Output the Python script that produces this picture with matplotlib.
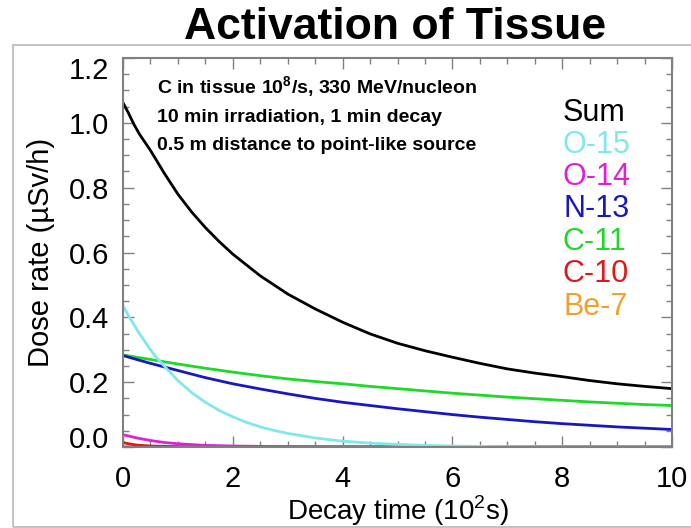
import matplotlib
matplotlib.use('Agg')
import matplotlib.pyplot as plt
import matplotlib.transforms as mtransforms
from matplotlib.patches import Rectangle

plt.rcParams['font.family'] = ['Liberation Sans', 'DejaVu Sans']
plt.rcParams['mathtext.fontset'] = 'custom'
plt.rcParams['mathtext.rm'] = 'Liberation Sans'
plt.rcParams['mathtext.bf'] = 'Liberation Sans:bold'

# decay time in units of 10^2 s, dose rate in uSv/h
t_sum = [0, 0.1, 0.2, 0.3, 0.4, 0.5, 0.75, 1, 1.25, 1.5, 1.75, 2, 2.5, 3, 3.5, 4,
         4.5, 5, 5.5, 6, 6.5, 7, 7.5, 8, 8.5, 9, 9.5, 10]
sum_rate = [1.062, 1.03, 0.995, 0.965, 0.94, 0.915, 0.845, 0.78, 0.725, 0.677,
            0.634, 0.595, 0.528, 0.472, 0.426, 0.385, 0.349, 0.32, 0.297, 0.277,
            0.258, 0.241, 0.228, 0.217, 0.205, 0.195, 0.187, 0.18]

t_o15 = [0, 0.1, 0.2, 0.3, 0.4, 0.5, 0.6, 0.75, 1, 1.25, 1.5, 1.75, 2, 2.25, 2.5,
         2.75, 3, 3.5, 4, 4.5, 5, 5.5, 6, 7, 8, 10]
o15_rate = [0.436, 0.405, 0.377, 0.35, 0.325, 0.30, 0.278, 0.25, 0.205, 0.168,
            0.138, 0.113, 0.093, 0.076, 0.062, 0.051, 0.042, 0.028, 0.018, 0.012,
            0.008, 0.005, 0.003, 0.001, 0.0, 0.0]

t_o14 = [0, 0.1, 0.25, 0.5, 0.75, 1, 1.5, 2, 3, 4, 10]
o14_rate = [0.038, 0.034, 0.028, 0.02, 0.014, 0.01, 0.005, 0.003, 0.001, 0.0, 0.0]

t_n13 = [0, 0.5, 1, 1.5, 2, 2.5, 3, 3.5, 4, 4.5, 5, 5.5, 6, 6.5, 7, 7.5, 8, 8.5,
         9, 9.5, 10]
n13_rate = [0.282, 0.258, 0.236, 0.214, 0.195, 0.179, 0.164, 0.15, 0.138, 0.128,
            0.118, 0.109, 0.10, 0.092, 0.085, 0.078, 0.072, 0.067, 0.062, 0.058,
            0.054]

t_c11 = [0, 0.5, 1, 1.5, 2, 2.5, 3, 3.5, 4, 4.5, 5, 5.5, 6, 6.5, 7, 7.5, 8, 8.5,
         9, 9.5, 10]
c11_rate = [0.284, 0.27, 0.256, 0.243, 0.231, 0.22, 0.21, 0.202, 0.195, 0.187,
            0.18, 0.173, 0.166, 0.16, 0.154, 0.149, 0.144, 0.139, 0.135, 0.131,
            0.128]

t_c10 = [0, 0.1, 0.25, 0.5, 1, 1.5, 10]
c10_rate = [0.014, 0.010, 0.006, 0.003, 0.001, 0.0, 0.0]

t_be7 = [0, 10]
be7_rate = [0.003, 0.003]

names = ['Sum', 'O-15', 'O-14', 'N-13', 'C-11', 'C-10', 'Be-7']
colors = ['black', '#80e8ea', '#e020d8', '#1818c0', '#20d828', '#e01818', '#f0a030']

fig = plt.figure(figsize=(6.91, 5.28), dpi=100)

# thin grey box around the plot
fig.patches.append(Rectangle((13 / 691, 1 / 528), 700 / 691, (528 - 46) / 528,
                             transform=fig.transFigure, fill=False,
                             edgecolor='#b8b8b8', linewidth=1.2, zorder=0))

ax = fig.add_axes([123 / 691, 81 / 528, 549 / 691, 389 / 528])

# bottom curves first, sum on top
ax.plot(t_be7, be7_rate, color=colors[6], lw=2)
ax.plot(t_c10, c10_rate, color=colors[5], lw=2)
ax.plot(t_c11, c11_rate, color=colors[4], lw=2)
ax.plot(t_n13, n13_rate, color=colors[3], lw=2)
ax.plot(t_o14, o14_rate, color=colors[2], lw=2)
ax.plot(t_o15, o15_rate, color=colors[1], lw=2)
ax.plot(t_sum, sum_rate, color=colors[0], lw=2)

ax.set_xlim(0, 10)
ax.set_ylim(0, 1.2)
ax.set_xticks([0, 2, 4, 6, 8, 10])
ax.set_xticks([i * 0.5 for i in range(21)], minor=True)
ax.set_yticks([0, 0.2, 0.4, 0.6, 0.8, 1.0, 1.2])
ax.set_yticklabels(['0.0', '0.2', '0.4', '0.6', '0.8', '1.0', '1.2'])
ax.set_yticks([i * 0.05 for i in range(25)], minor=True)
ax.tick_params(which='both', direction='in', top=True, right=True,
               color='#808080', labelsize=21)
ax.tick_params(which='major', length=8, width=1)
ax.tick_params(which='minor', length=4, width=1)
ax.tick_params(axis='x', pad=13)
ax.tick_params(axis='y', pad=10)
for sp in ax.spines.values():
    sp.set_color('#808080')
    sp.set_linewidth(1.5)

# pull the end labels of the y axis inward
ylabels = ax.get_yticklabels()
ylabels[0].set_transform(ylabels[0].get_transform() +
                         mtransforms.ScaledTranslation(0, 10 / 100, fig.dpi_scale_trans))
ylabels[-1].set_transform(ylabels[-1].get_transform() +
                          mtransforms.ScaledTranslation(0, -10 / 100, fig.dpi_scale_trans))

ax.set_xlabel('Decay time (10$^{2}$s)', fontsize=20, labelpad=0)
ax.set_ylabel('Dose rate (\u00b5Sv/h)', fontsize=21, labelpad=10)

fig.text(0.572, 0.947, 'Activation of Tissue', ha='center', va='center',
         fontsize=32, fontweight='bold')

note_kw = dict(transform=ax.transAxes, fontsize=14, fontweight='bold', va='center')
ax.text(0.062, 0.925, 'C in tissue 10$^\\mathbf{8}$/s, 330 MeV/nucleon', **note_kw)
ax.text(0.062, 0.848, '10 min irradiation, 1 min decay', **note_kw)
ax.text(0.062, 0.776, '0.5 m distance to point-like source', **note_kw)

# colour keyed labels on the right
label_y = [113, 145, 177, 209, 242, 274, 307]
for name, c, yp in zip(names, colors, label_y):
    fig.text(563 / 691, 1 - yp / 528, name, color=c, fontsize=22,
             ha='left', va='center')

fig.savefig('out.png', dpi=100)
